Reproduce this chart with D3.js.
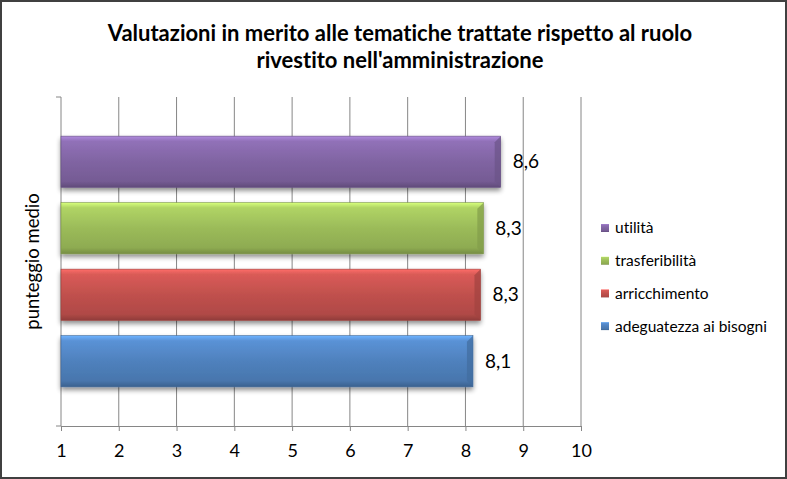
<!DOCTYPE html>
<html>
<head>
<meta charset="utf-8">
<script src="https://cdn.jsdelivr.net/npm/d3@7"></script>
<style>
  body { margin: 0; background: #fff; }
  svg text { font-family: Lato, "Open Sans", sans-serif; fill: #000; font-variant-ligatures: none; }
</style>
</head>
<body>
<div id="chart"></div>
<script>
// dati
const series = ['utilità', 'trasferibilità', 'arricchimento', 'adeguatezza ai bisogni'];
const values = [8.61, 8.31, 8.26, 8.13];
const labels = ['8,6', '8,3', '8,3', '8,1'];
const colors = ['#8064A2', '#9BBB59', '#C0504D', '#4F81BD'];
const ticks = [1, 2, 3, 4, 5, 6, 7, 8, 9, 10];
const titleLines = ['Valutazioni in merito alle tematiche trattate rispetto al ruolo',
                    "rivestito nell'amministrazione"];
const axisTitle = 'punteggio medio';

const width = 787, height = 479;
const margin = { top: 97, right: 206, bottom: 53, left: 61 };
const chartWidth = width - margin.left - margin.right;
const chartHeight = height - margin.top - margin.bottom;

const svg = d3.select('#chart').append('svg')
    .attr('width', width).attr('height', height);

// bordo esterno
svg.append('rect')
    .attr('x', 1).attr('y', 1).attr('width', width - 2).attr('height', height - 2)
    .attr('fill', '#fff').attr('stroke', '#404040').attr('stroke-width', 2);

const defs = svg.append('defs');
colors.forEach((c, i) => {
    const base = d3.color(c);
    const g = defs.append('linearGradient').attr('id', 'grad' + i)
        .attr('x1', 0).attr('y1', 0).attr('x2', 0).attr('y2', 1);
    g.append('stop').attr('offset', '0%').attr('stop-color', base.brighter(0.9));
    g.append('stop').attr('offset', '10%').attr('stop-color', base.brighter(0.35));
    g.append('stop').attr('offset', '50%').attr('stop-color', base);
    g.append('stop').attr('offset', '88%').attr('stop-color', base.darker(0.25));
    g.append('stop').attr('offset', '100%').attr('stop-color', base.darker(0.8));
});
const shadow = defs.append('filter').attr('id', 'shadow')
    .attr('x', '-5%').attr('y', '-20%').attr('width', '110%').attr('height', '160%');
shadow.append('feGaussianBlur').attr('in', 'SourceAlpha').attr('stdDeviation', 2.5);
shadow.append('feOffset').attr('dx', 0).attr('dy', 3).attr('result', 'b');
shadow.append('feComponentTransfer').append('feFuncA').attr('type', 'linear').attr('slope', 0.45);
const merge = shadow.append('feMerge');
merge.append('feMergeNode');
merge.append('feMergeNode').attr('in', 'SourceGraphic');

// titolo
svg.append('g').selectAll('text').data(titleLines).join('text')
    .attr('x', 400).attr('y', (d, i) => 41 + i * 27)
    .attr('text-anchor', 'middle')
    .attr('font-size', '22px').attr('font-weight', 'bold')
    .text(d => d);

const chart = svg.append('g')
    .attr('transform', `translate(${margin.left},${margin.top})`);

const xScale = d3.scaleLinear().domain([1, 10]).range([0, chartWidth]);
const yScale = d3.scaleBand().domain(series)
    .range([chartHeight / 2 - 133, chartHeight / 2 + 133])
    .paddingInner(0.23).paddingOuter(0.115);

// griglia verticale
chart.append('g').selectAll('line').data(ticks).join('line')
    .attr('x1', d => xScale(d)).attr('x2', d => xScale(d))
    .attr('y1', 0).attr('y2', chartHeight)
    .attr('stroke', '#868686').attr('stroke-width', 1);

// asse X
const xAxis = d3.axisBottom(xScale).tickValues(ticks).tickSize(5).tickPadding(13)
    .tickFormat(d3.format('d'));
const xg = chart.append('g').attr('transform', `translate(0,${chartHeight})`).call(xAxis);
xg.select('.domain').attr('stroke', '#868686');
xg.selectAll('.tick line').attr('stroke', '#868686');
xg.selectAll('.tick text').attr('font-size', '18px').attr('font-family', 'Lato, sans-serif')
    .attr('fill', '#000');

// tacche asse Y
chart.append('g').selectAll('line').data([0, chartHeight]).join('line')
    .attr('x1', -5).attr('x2', 0).attr('y1', d => d).attr('y2', d => d)
    .attr('stroke', '#868686');

// barre
chart.append('g').selectAll('rect').data(series).join('rect')
    .attr('x', xScale(1))
    .attr('y', d => yScale(d))
    .attr('width', (d, i) => xScale(values[i]) - xScale(1))
    .attr('height', yScale.bandwidth())
    .attr('fill', (d, i) => `url(#grad${i})`)
    .attr('stroke', (d, i) => d3.color(colors[i]).darker(0.6))
    .attr('stroke-width', 0.6)
    .attr('filter', 'url(#shadow)');

// smusso sul lato destro
chart.append('g').selectAll('path').data(series).join('path')
    .attr('d', (d, i) => {
        const x = xScale(values[i]), y = yScale(d), h = yScale.bandwidth();
        return `M${x},${y} L${x},${y + h} L${x - 6},${y + h - 6} L${x - 6},${y + 6} Z`;
    })
    .attr('fill', (d, i) => d3.color(colors[i]).darker(0.5))
    .attr('opacity', 0.7);

// etichette valori
chart.append('g').selectAll('text').data(series).join('text')
    .attr('x', (d, i) => xScale(values[i]) + 12)
    .attr('y', d => yScale(d) + yScale.bandwidth() / 2)
    .attr('dy', '0.35em')
    .attr('font-size', '19px')
    .text((d, i) => labels[i]);

// titolo asse
svg.append('text')
    .attr('transform', `translate(39,${margin.top + chartHeight / 2}) rotate(-90)`)
    .attr('text-anchor', 'middle')
    .attr('font-size', '18.5px')
    .text(axisTitle);

// legenda
const legend = svg.append('g').attr('transform', 'translate(601,228)');
const item = legend.selectAll('g').data(series).join('g')
    .attr('transform', (d, i) => `translate(0,${i * 32.7})`);
item.append('rect')
    .attr('x', 0).attr('y', -4).attr('width', 8).attr('height', 8)
    .attr('fill', (d, i) => `url(#grad${i})`);
item.append('text')
    .attr('x', 14).attr('dy', '0.35em')
    .attr('font-size', '15.5px')
    .text(d => d);
</script>
</body>
</html>
